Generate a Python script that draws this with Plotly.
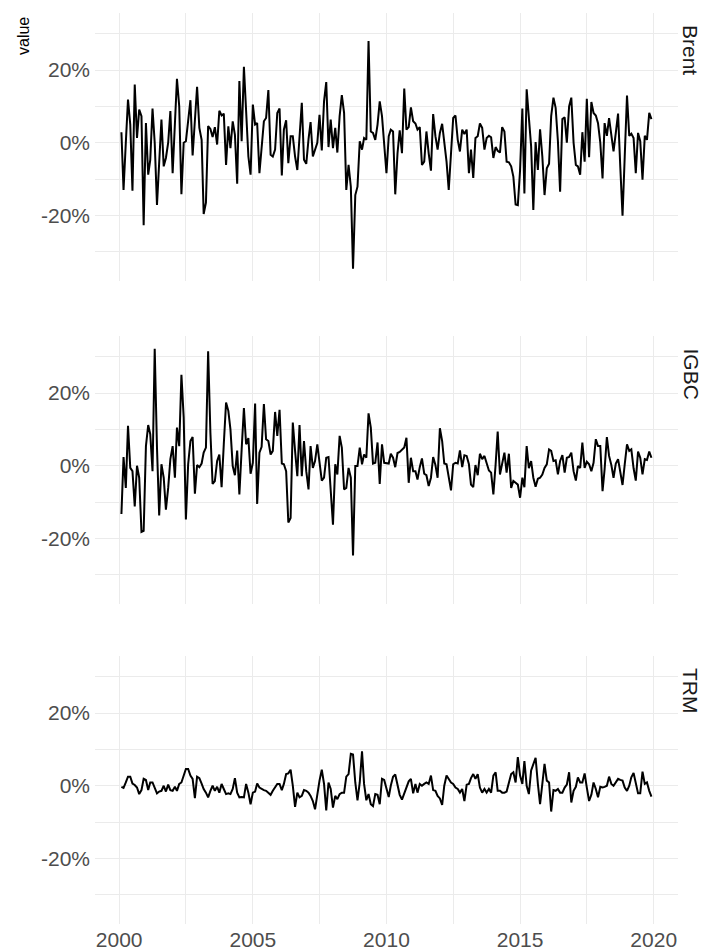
import pandas as pd
import plotly.graph_objects as go

# ---------------- data (monthly returns, %) ----------------
dates = pd.date_range("2000-02-01", periods=239, freq="MS")

series_names = ["Brent", "IGBC", "TRM"]

brent = [2.9, -13, 0, 11.9, 5, -13.2, 16, 1.3, 9.1, 7.3,
         -22.7, 5.4, -8.8, -4.7, 9.4, 0, -17.1, -5, 6.4, -6.5,
         -4.2, 0, 8.7, -8.4, 4, 17.6, 10, -14.2, 0, 0.4,
         6, 11.7, -3.5, 6, 15.4, 4.1, 0.8, -19.6, -16.5, 4.6,
         3.8, 1.6, 4.3, -0.5, 8.8, 7.5, 8, -6.1, 4.5, -1.5,
         5.9, 2.2, -11.3, 17, 0.4, 20.9, 10, -3.8, -8.8, 10.5,
         5, 5.4, -8.4, 0, 5.9, 6.8, 14.5, -3.3, -3.8, -1.9,
         8.2, 9.4, -9, 3.6, 6.2, -5.6, 1.8, 1.8, -3.8, -7.5,
         2, 11, -4.7, -5.8, 1, 5.7, -3.8, -1.9, 0, 7.7,
         -2.1, 11.4, 16.7, -1.2, 6.4, -1.5, 4.1, -2.7, 7.3, 13.1,
         8.2, -13, -6.1, -12.1, -34.7, -14.4, -12.1, 0.4, -1.9, 1.3,
         0.8, 28, 3.1, 2.7, 0.8, 5, 11.4, 7.3, 0.4, -8.4,
         1.8, 3.6, 3.1, -14.2, -2.9, 3.4, -2.9, 14.9, 3.6, 4.3,
         9.7, 5.9, 5.3, 3.6, 4.3, -6.1, -5.2, 3.1, -2.9, -7.7,
         7.9, 1.8, -1.9, 2.7, 5.2, 0, -5.2, -13, -1.9, 6.8,
         7.5, 0.8, -2.4, 3.6, 2.4, 3.6, -8.4, -1.9, -9.7, 1.3,
         1.8, 5.3, 4.1, -1.9, 1.3, 1.9, 1.5, -4.2, -1.2, -2.2,
         -2.7, 4.3, 3.1, -5.2, -5.4, -6.5, -9.3, -17, -17.2, -7.5,
         9.4, -14, 14.7, 6.5, -1, -18.5, 0.2, -7.5, 3.7, -3.8,
         -14.4, -7, -5.8, 7.3, 12.4, 9.6, 0.4, -13.5, 6.5, 7,
         0, 10, 12.4, 0, -6.1, -6.5, -8.8, 2.9, -5.2, 12.1,
         -4, 11.2, 8.2, 7.5, 5.4, 0, -9.8, 5.4, 1.9, 6.8,
         2.7, -2.4, 2.7, 8, -6.5, -20.1, -3.8, 13, 1.9, 2.5,
         1.3, -8.4, 2.7, 0.4, -10.2, 1.9, 0.8, 8.2, 6.5]

igbc = [-13.3, 2.4, -6.1, 11, -0.6, -1.5, -11.2, 0, -3.3, -18.2,
        -17.9, 5.4, 11.2, 8.7, -1.5, 32.2, 5, -13.7, 0.4, -3.3,
        -12.1, -6.1, 1.8, 5.4, -3.3, 10.5, 5.4, 25, 13.3, -14.8,
        0.4, 6.8, 7.9, -7.7, 0.2, -0.4, 0.6, 3.6, 5, 31.5,
        9.1, -5, -4.2, 1.3, 3.1, -5.9, 5.9, 17.4, 15.1, 10,
        -0.1, -2.6, 4.2, -7.9, 4.5, 15.9, 5.9, 7.6, -2.2, 0.8,
        17.1, -10.5, 3.6, 5.2, 17, 7.3, 6.8, 3.1, 4.1, 14.8,
        8.2, 15.4, 0.6, 0.4, -1.5, -15.6, -14.4, 11.9, 4.1, -2.9,
        11.2, -2.9, 6.8, -1.5, -6.5, 5.4, -0.6, 1.3, 5.9, 0.2,
        -4.1, -3.3, 2.2, 2.4, -5.6, -16.2, 0.4, -2.4, 8.2, 5,
        -6.5, -6.1, -0.6, -3.3, -24.7, -0.1, -0.1, 5, 0.4, 3.1,
        2.2, 14.4, 10.5, 0.6, 0.8, 6.4, -5, 5.9, 0.8, 0.8,
        0.6, 3.3, 2.2, -0.4, 3.5, 3.8, 4.5, 5, 7.7, -4.7,
        2.2, -1.5, -1.5, -3.8, -0.4, 2, -2.2, -2.6, -5.6, -3.3,
        2.4, 0.2, -3.3, 10.3, 6.8, 0.6, 0.4, -3.3, -6.8, 0.4,
        0.8, 0.6, 4.2, -0.4, 2.9, 2.7, 0.4, -5.2, -5.9, 0.2,
        -2.6, 3.3, 1.8, 2.7, 0.4, -1.3, -1.9, -7.9, 0.4, 9.4,
        -2.4, 0.4, 3.6, -1.9, 3.3, -6.1, -4.2, -4.7, -5.2, -8.8,
        -3.3, -5.9, 5.4, -0.7, 1.3, -3.3, -5.8, -3.6, -3.3, -2.4,
        -0.6, 0.4, 4.5, 4.1, 1.3, 1.5, -2.4, 1.3, 2.9, -1.9,
        2.2, 2.4, 3.6, -1.5, -4.1, -0.1, -0.6, 6.4, -0.6, 1.1,
        0.4, -1.5, 0.8, 7.3, 5.4, 5.4, -7, -1, 7.9, 2.7,
        0.2, -3.3, 0.6, 1.8, -1.5, -5.3, 0.4, 5.9, 4.1, 4.5,
        -0.7, -4.1, 3.9, 2.2, -2.4, 1.8, 1.6, 3.9, 2.2]

trm = [-0.3, -0.6, 0.9, 2.5, 2.5, 0.6, 0.2, -0.5, -2.3, -1.2,
       1.9, 1.6, -1.2, 0.9, 0.9, -0.5, -2.1, -1.6, -1.4, 0,
       -1.6, 0.3, -1.2, -1.4, -0.3, -1.4, 0.5, 0.9, 2.8, 4.6,
       4.6, 2.8, 1.9, -3.4, 2.5, 2.1, 0.6, -0.9, -1.9, -3.2,
       -1.4, 0, -1.4, -0.3, -1.9, 0.5, -0.9, -2.3, -2.1, -2.3,
       -0.9, 2.1, -1.9, -3.2, -3.1, -3.2, 0.5, -1.9, -5.1, -1.9,
       -1.6, 0.6, -0.5, -0.9, -1.2, -1.4, -1.9, -2.5, -1.4, -0.6,
       0.5, 0.5, -1.2, 0.5, 3.2, 3.4, 4.4, 0, -5.8, -1.9,
       -3.2, -2.8, -1.2, -1.4, -1.9, -2.8, -4.2, -6.5, -2.3, 1.4,
       4.4, 0.5, -6.8, 0.9, -0.9, -6, -2.8, -3.7, -2.3, -1.9,
       -1.9, 2.5, 3.2, 8.8, 8.6, 0.9, -4, 0.9, 9.5, 0.5,
       -4, -2.3, -5.1, -5.6, -2.3, -2.5, -5.1, 1.9, 1.6, -0.5,
       -3.1, 0, 2.5, 3.1, -0.3, -2.5, -3.8, -2, -0.5, 1.2,
       1.9, -2.1, 0.5, -1.9, 0.5, 0, 0.5, 0.9, 0.5, 2.8,
       -1.2, -1.4, -2.8, -3.5, -5.3, 0, 2.8, 1.9, 0.9, 0.5,
       -0.5, -0.9, -1.9, -0.9, -4.2, 0.3, 0.5, 2.1, 3.2, 1.9,
       3.2, -0.5, -1.9, -0.9, -1.9, -0.9, -1.9, 2.8, 3.7, -1.4,
       -1.4, -1.9, -1.9, -1.6, 0.9, 3.2, 3.7, 0.9, 7.9, 2.8,
       0.5, 6.8, 0, -2.3, 4.2, 6, 7.7, 0.5, -5.1, 0.5,
       6, 1.4, 0.9, -7.1, -1.2, -1.4, -0.9, -1.9, -1.9, -0.5,
       0.3, 3.7, -4.6, -1.4, -0.3, 2.3, 0.9, 0.9, 3.4, -0.5,
       -4.2, -2.5, 0.9, -0.9, -3.2, -0.3, -0.5, -0.3, 0, 2.5,
       0.5, 0, 0.9, 1.9, 1.6, 1.4, -0.5, -1.4, 0, 2.3,
       3.5, 0.5, -2.1, -2.1, 3.9, 0.5, 0.9, -1.4, -3]

y_tick_vals = [-0.2, 0.0, 0.2]
y_tick_text = ["-20%", "0%", "20%"]
y_minor_vals = [-0.3, -0.1, 0.1, 0.3]
x_tick_vals = ["2000-01-01", "2005-01-01", "2010-01-01", "2015-01-01", "2020-01-01"]
x_tick_text = ["2000", "2005", "2010", "2015", "2020"]
x_minor_vals = ["2002-07-02", "2007-07-02", "2012-07-02", "2017-07-02"]

# ---------------- figure ----------------
FONT = "Liberation Sans, Arial, sans-serif"
GRID = "#EBEBEB"
TICKC = "#4D4D4D"
FS = 21

all_vals = [brent, igbc, trm]
fig = go.Figure()
for k, (name, vals) in enumerate(zip(series_names, all_vals)):
    fig.add_trace(go.Scatter(
        x=dates, y=[v / 100 for v in vals], mode="lines", name=name,
        line=dict(color="black", width=2),
        xaxis="x" if k == 0 else f"x{k+1}",
        yaxis="y" if k == 0 else f"y{k+1}",
        showlegend=False, hoverinfo="skip"))

W, H = 707, 951
L, R = 95, 678
top, bottom = 13, 924
panels_px = [(13, 281), (336, 604), (656, 924)]
ph = bottom - top

def dom(p):
    a, b = p
    return [(bottom - b) / ph, (bottom - a) / ph]

yrange = [-0.3805, 0.3570]
xrange = ["1999-02-05", "2020-11-28"]

layout = dict(
    width=W, height=H,
    paper_bgcolor="white", plot_bgcolor="white",
    margin=dict(l=L, r=W - R, t=top, b=H - bottom, autoexpand=False),
    font=dict(family=FONT, color=TICKC),
    showlegend=False,
)
for k in range(3):
    xa = "xaxis" if k == 0 else f"xaxis{k+1}"
    ya = "yaxis" if k == 0 else f"yaxis{k+1}"
    yref = "y" if k == 0 else f"y{k+1}"
    layout[xa] = dict(
        domain=[0, 1], anchor=yref, range=xrange, type="date",
        tickvals=x_tick_vals, ticktext=x_tick_text, automargin=False,
        showticklabels=(k == 2), tickfont=dict(size=FS, color=TICKC, family=FONT),
        ticklabelstandoff=1,
        showgrid=True, gridcolor=GRID, gridwidth=1.1,
        minor=dict(tickvals=x_minor_vals, showgrid=True, gridcolor=GRID, gridwidth=0.6),
        zeroline=False, showline=False, ticks="",
    )
    if k > 0:
        layout[xa]["matches"] = "x"
    layout[ya] = dict(
        domain=dom(panels_px[k]), anchor="x" if k == 0 else f"x{k+1}",
        range=yrange, tickvals=y_tick_vals, ticktext=y_tick_text, automargin=False,
        tickfont=dict(size=FS, color=TICKC, family=FONT),
        ticklabelstandoff=4,
        showgrid=True, gridcolor=GRID, gridwidth=1.1,
        minor=dict(tickvals=y_minor_vals, showgrid=True, gridcolor=GRID, gridwidth=0.6),
        zeroline=False, showline=False, ticks="",
    )
fig.update_layout(**layout)

annotations = []
for k, name in enumerate(series_names):
    a, b = panels_px[k]
    annotations.append(dict(
        text=name, xref="paper", yref="paper",
        x=1 + (691 - R) / (R - L), y=(bottom - a - 10) / ph,
        xanchor="center", yanchor="top", textangle=90, showarrow=False,
        font=dict(size=21, color="#1A1A1A", family=FONT)))
annotations.append(dict(
    text="value", xref="paper", yref="paper",
    x=(24 - L) / (R - L), y=(bottom - 36) / ph,
    xanchor="center", yanchor="middle", textangle=-90, showarrow=False,
    font=dict(size=16, color="black", family=FONT)))
fig.update_layout(annotations=annotations)

fig.write_html("out.html", config={"displayModeBar": False},
               post_script="document.body.style.margin='0';document.body.style.overflow='hidden';")
